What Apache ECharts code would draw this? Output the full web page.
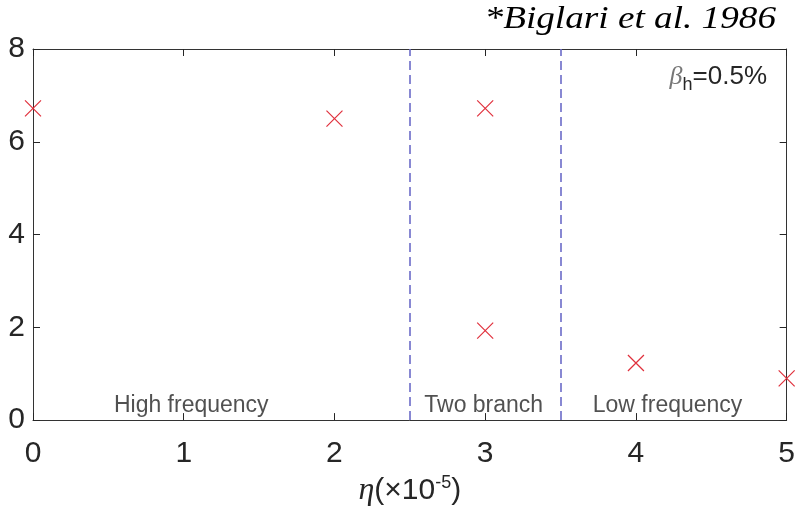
<!DOCTYPE html>
<html><head><meta charset="utf-8">
<script src="https://cdn.jsdelivr.net/npm/echarts@6/dist/echarts.min.js"></script>
<style>html,body{margin:0;padding:0;background:#fff}#c{width:798px;height:512px}</style>
</head><body><div id="c"></div>
<script>
const etaValues = [0, 2, 3, 3, 4, 5];
const freqValues = [6.72, 6.5, 6.72, 1.93, 1.23, 0.9];
const boundaryLines = [2.5, 3.5];
const regionLabels = ['High frequency', 'Two branch', 'Low frequency'];
const regionX = [1.05, 2.99, 4.21];
const regionY = [0.32, 0.32, 0.32];
const xTicks = [0, 1, 2, 3, 4, 5];
const yTicks = [0, 2, 4, 6, 8];

const chart = echarts.init(document.getElementById('c'));
const axisCol = '#262626';
const font = 'Liberation Sans, Arial, sans-serif';
const tickStyle = {show: true, inside: true, length: 7, lineStyle: {color: axisCol}};
const lineStyle = {show: true, onZero: false, lineStyle: {color: '#333', width: 1}};
chart.setOption({
  animation: false,
  graphic: [{
    type: 'text', x: 776, y: 4, scaleX: 1.2,
    style: {text: '*Biglari et al. 1986', textAlign: 'right', textVerticalAlign: 'top',
      font: 'italic 31px "Liberation Serif"', fill: '#000'}
  }],
  title: [{
    text: '{b|β}{s|h}{n|=0.5%}', right: 26, top: 55,
    textStyle: {rich: {
      b: {fontFamily: 'Liberation Serif, serif', fontStyle: 'italic', fontWeight: 'normal', fontSize: 26, color: '#777'},
      s: {fontFamily: font, fontWeight: 'normal', fontSize: 18, color: '#262626', verticalAlign: 'bottom', padding: [16, 0, 0, 0]},
      n: {fontFamily: font, fontWeight: 'normal', fontSize: 26, color: '#262626'}
    }}
  }],
  grid: {left: 33, right: 5, top: 49, bottom: 89},
  xAxis: [{
    type: 'value', min: 0, max: 5, interval: 1,
    axisLine: lineStyle,
    axisTick: tickStyle, splitLine: {show: false},
    axisLabel: {color: axisCol, fontSize: 30, fontFamily: font, margin: 19,
      formatter: v => xTicks.includes(v) ? String(v) : ''},
    name: '{e|η}{t|(×10}{p|-5}{t|)}', nameLocation: 'middle', nameGap: 48,
    nameTextStyle: {rich: {
      e: {fontFamily: 'Liberation Serif, serif', fontStyle: 'italic', fontSize: 32, color: axisCol},
      t: {fontFamily: font, fontSize: 30, color: axisCol},
      p: {fontFamily: font, fontSize: 18, color: axisCol, verticalAlign: 'top', padding: [0, 0, 16, 0]}
    }}
  }, {
    type: 'value', position: 'top', min: 0, max: 5, interval: 1,
    axisLine: lineStyle,
    axisTick: tickStyle, axisLabel: {show: false}, splitLine: {show: false}
  }],
  yAxis: [{
    type: 'value', min: 0, max: 8, interval: 2,
    axisLine: lineStyle,
    axisTick: tickStyle, splitLine: {show: false},
    axisLabel: {color: axisCol, fontSize: 30, fontFamily: font, margin: 8,
      formatter: v => yTicks.includes(v) ? String(v) : ''}
  }, {
    type: 'value', position: 'right', min: 0, max: 8, interval: 2,
    axisLine: lineStyle,
    axisTick: tickStyle, axisLabel: {show: false}, splitLine: {show: false}
  }],
  series: [{
    type: 'scatter',
    data: etaValues.map((x, i) => [x, freqValues[i]]),
    symbol: 'path://M0,0L10,10M10,0L0,10',
    symbolSize: 16,
    itemStyle: {color: 'rgba(0,0,0,0)', borderColor: '#e0303c', borderWidth: 1.2, opacity: 1},
    clip: false,
    z: 5,
    markLine: {
      silent: true, symbol: 'none', label: {show: false},
      lineStyle: {color: '#6b6bc8', type: [9, 5], width: 1.6},
      data: boundaryLines.map(v => ({xAxis: v}))
    }
  }, {
    type: 'scatter',
    data: regionLabels.map((t, i) => ({value: [regionX[i], regionY[i]], name: t})),
    symbolSize: 0,
    silent: true,
    label: {show: true, position: 'inside', formatter: p => p.name,
      fontFamily: font, fontSize: 23, color: axisCol}
  }]
});
</script></body></html>
